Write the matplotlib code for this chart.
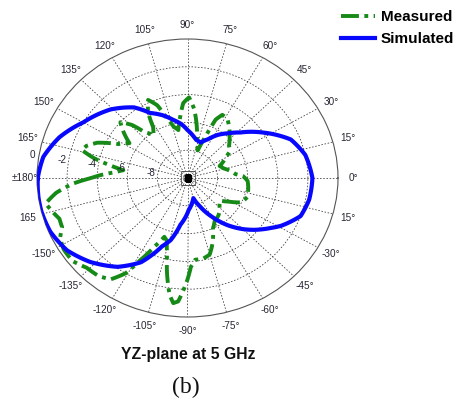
import numpy as np
import matplotlib
matplotlib.use("Agg")
import matplotlib.pyplot as plt

# Radiation pattern in the YZ-plane at 5 GHz, gain in dB (normalised)
meas_deg = [-180, -177, -173, -169, -165, -161, -157, -153, -148, -142,
            -136, -130, -125, -121, -118, -114, -110, -107, -104, -101,
            -98, -96, -94, -92, -90, -88, -85, -80, -75, -70,
            -65, -60, -53, -48, -43, -37, -32, -26, -19, -10,
            -3, 2, 5, 10, 16, 22, 27, 31, 34, 40,
            47, 53, 58, 63, 66, 68, 71, 75, 80, 85,
            89, 93, 96, 100, 104, 108, 111, 115, 119, 122,
            126, 131, 134, 138, 142, 147, 152, 157, 161, 164,
            167, 170, 172.5, 175, 178, 180]
meas_db = [-3.6, -2.4, -1.2, -0.4, -0.7, -1.0, -0.95, -0.5, -0.3, -0.3,
           -0.7, -0.8, -1.1, -2.0, -3.3, -4.6, -5.5, -5.3, -4.4, -2.9,
           -1.5, -0.95, -1.1, -1.9, -2.7, -3.6, -4.1, -4.1, -4.3, -5.1,
           -6.0, -6.4, -6.6, -6.8, -7.1, -7.3, -6.8, -6.0, -5.8, -5.9,
           -6.0, -6.3, -6.8, -7.1, -7.5, -7.7, -7.3, -7.0, -6.6, -6.4,
           -5.9, -5.4, -5.0, -4.9, -5.4, -6.7, -7.9, -7.6, -6.4, -5.0,
           -4.2, -4.6, -5.5, -6.5, -6.2, -5.4, -4.4, -3.8, -4.6, -5.7,
           -6.2, -5.6, -4.7, -4.0, -4.6, -5.4, -4.8, -3.5, -2.9, -2.7,
           -3.6, -4.8, -5.7, -5.2, -4.2, -3.6]

sim_deg = [-180, -172, -166, -157, -147, -137, -126, -117, -109, -104,
           -98, -88, -80, -75, -68, -60, -52, -45, -40, -33,
           -29, -20, -11, 0, 12, 22, 33, 43, 50, 57,
           64, 71, 78, 82, 90, 96, 103, 110, 118, 125,
           136, 150, 161, 171, 180]
sim_db = [-0.05, 0.0, 0.0, -0.1, -0.45, -1.15, -2.1, -3.2, -4.8, -5.4,
          -6.6, -7.7, -8.2, -8.5, -7.8, -6.8, -5.7, -4.8, -4.2, -3.4,
          -2.9, -2.0, -1.77, -1.7, -2.0, -2.6, -4.0, -5.2, -5.8, -6.3,
          -6.9, -7.3, -7.2, -7.0, -6.55, -6.1, -5.7, -5.2, -4.7, -3.8,
          -2.9, -2.0, -1.0, -0.3, -0.05]

ring_db = [-8, -6, -4, -2]
ring_labels = ["-8", "-6", "-4", "-2", "0"]
spoke_deg = list(range(0, 360, 15))
spoke_labels = ["0°", "15°", "30°", "45°", "60°", "75°", "90°", "105°",
                "120°", "135°", "150°", "165°", "±180°", "165", "-150°",
                "-135°", "-120°", "-105°", "-90°", "-75°", "-60°", "-45°",
                "-30°", "15°"]

plt.rcParams["font.family"] = ["Liberation Sans", "DejaVu Sans"]
txt_col = "#262633"

fig = plt.figure(figsize=(4.62, 4.03), dpi=100)
ax = fig.add_axes([37 / 462, 86 / 403, 301 / 462, 278 / 403], projection="polar")
ax.set_aspect("auto")  # let the polar grid stretch to an ellipse
ax.set_theta_zero_location("E")
ax.set_ylim(-10, 0)

ax.set_thetagrids(spoke_deg, labels=[])
ax.set_rgrids(ring_db, labels=[])
ax.grid(True, color="#333333", linestyle=(0, (2.0, 2.2)), linewidth=0.55)
ax.spines["polar"].set_color("#555555")
ax.spines["polar"].set_linewidth(0.8)
ax.tick_params(labelleft=False, labelbottom=False)

meas_line, = ax.plot(np.deg2rad(meas_deg), meas_db, color="#168a16",
                     linewidth=2.8, dashes=(4.6, 1.4, 1.0, 1.4),
                     label="Measured", zorder=3)
sim_line, = ax.plot(np.deg2rad(sim_deg), sim_db, color="#0808ff",
                    linewidth=3.0, label="Simulated", zorder=4)
# draw segments as arcs in (theta, r) instead of chords
for ln in (meas_line, sim_line):
    ln._path._interpolation_steps = 12

# centre marker
ax.plot([0], [-10], marker="s", markersize=4.5, color="black", zorder=5)
ax.plot([0], [-10], marker="s", markersize=10, markerfacecolor="none",
        markeredgecolor="#555555", markeredgewidth=0.6, zorder=5)

# angle labels
for deg, lab in zip(spoke_deg, spoke_labels):
    r = 0.8 if deg == 180 else 1.0
    ax.text(np.deg2rad(deg), r, lab, fontsize=7.2, color=txt_col,
            ha="center", va="center", clip_on=False)

# ring labels
for val, lab in zip(ring_db + [0], ring_labels):
    ax.text(np.deg2rad(171), val + 0.45, lab, fontsize=7.2, color=txt_col,
            ha="center", va="center", clip_on=False)

fig.legend(handles=[meas_line, sim_line], loc="upper left",
           bbox_to_anchor=(341 / 462, 1 - 10 / 403), frameon=False,
           prop={"weight": "bold", "size": 11}, handlelength=2.2,
           handletextpad=0.4, labelspacing=0.55, borderaxespad=0,
           borderpad=0)

fig.text(188 / 462, 1 - 354 / 403, "YZ-plane at 5 GHz", fontsize=11.3,
         fontweight="bold", ha="center", va="center", color="#111111")
fig.text(186 / 462, 1 - 387 / 403, "(b)", fontsize=17,
         family=["Liberation Serif", "DejaVu Serif"], ha="center",
         va="center", color="#111111")

fig.savefig("out.png", dpi=100)
